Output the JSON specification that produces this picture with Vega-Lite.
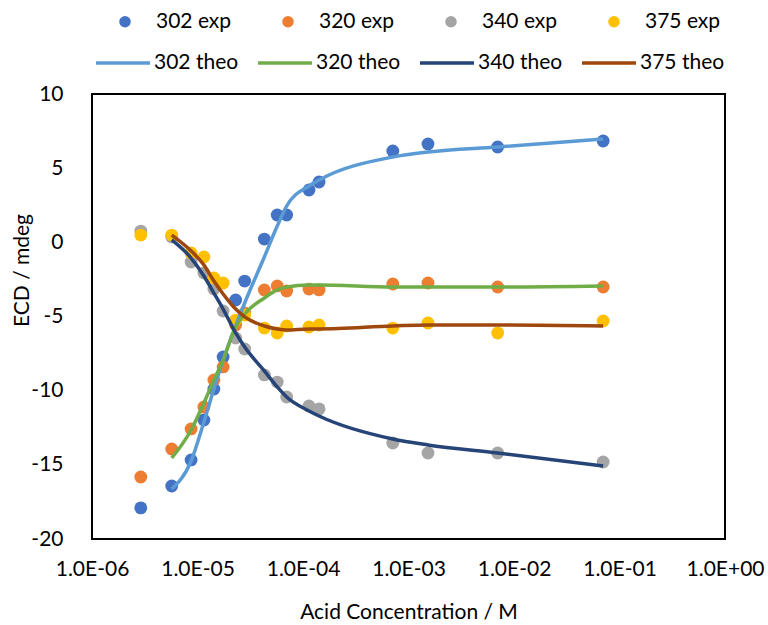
{
  "$schema": "https://vega.github.io/schema/vega-lite/v6.json",
  "width": 633,
  "height": 445,
  "autosize": {"type": "none"},
  "padding": {"left": 92, "top": 94, "right": 43, "bottom": 86},
  "background": "white",
  "config": {
    "font": "Lato",
    "view": {"stroke": "#000000", "strokeWidth": 2},
    "axis": {
      "grid": false, "domain": false, "ticks": false,
      "labelFont": "Lato", "labelFontSize": 21, "labelColor": "#000000",
      "titleFont": "Lato", "titleFontSize": 21, "titleFontWeight": "normal", "titleColor": "#000000"
    },
    "legend": {"labelFont": "Lato", "labelFontSize": 21, "labelColor": "#000000"}
  },
  "datasets": {
    "exp": [
      {"c": 2.9e-6, "s": "302 exp", "v": -17.9},
      {"c": 5.7e-6, "s": "302 exp", "v": -16.43},
      {"c": 8.7e-6, "s": "302 exp", "v": -14.67},
      {"c": 1.15e-5, "s": "302 exp", "v": -11.98},
      {"c": 1.43e-5, "s": "302 exp", "v": -9.89},
      {"c": 1.75e-5, "s": "302 exp", "v": -7.73},
      {"c": 2.3e-5, "s": "302 exp", "v": -3.89},
      {"c": 2.8e-5, "s": "302 exp", "v": -2.61},
      {"c": 4.3e-5, "s": "302 exp", "v": 0.22},
      {"c": 5.7e-5, "s": "302 exp", "v": 1.84},
      {"c": 7.0e-5, "s": "302 exp", "v": 1.84},
      {"c": 1.14e-4, "s": "302 exp", "v": 3.53},
      {"c": 1.42e-4, "s": "302 exp", "v": 4.07},
      {"c": 7.1e-4, "s": "302 exp", "v": 6.16},
      {"c": 1.53e-3, "s": "302 exp", "v": 6.63},
      {"c": 7.0e-3, "s": "302 exp", "v": 6.43},
      {"c": 7.0e-2, "s": "302 exp", "v": 6.83},
      {"c": 2.9e-6, "s": "320 exp", "v": -15.82},
      {"c": 5.7e-6, "s": "320 exp", "v": -13.93},
      {"c": 8.7e-6, "s": "320 exp", "v": -12.58},
      {"c": 1.15e-5, "s": "320 exp", "v": -11.1},
      {"c": 1.43e-5, "s": "320 exp", "v": -9.28},
      {"c": 1.75e-5, "s": "320 exp", "v": -8.4},
      {"c": 2.3e-5, "s": "320 exp", "v": -5.57},
      {"c": 2.8e-5, "s": "320 exp", "v": -4.76},
      {"c": 4.3e-5, "s": "320 exp", "v": -3.21},
      {"c": 5.7e-5, "s": "320 exp", "v": -2.94},
      {"c": 7.0e-5, "s": "320 exp", "v": -3.28},
      {"c": 1.14e-4, "s": "320 exp", "v": -3.15},
      {"c": 1.42e-4, "s": "320 exp", "v": -3.21},
      {"c": 7.1e-4, "s": "320 exp", "v": -2.81},
      {"c": 1.53e-3, "s": "320 exp", "v": -2.74},
      {"c": 7.0e-3, "s": "320 exp", "v": -3.01},
      {"c": 7.0e-2, "s": "320 exp", "v": -3.01},
      {"c": 2.9e-6, "s": "340 exp", "v": 0.76},
      {"c": 5.7e-6, "s": "340 exp", "v": 0.36},
      {"c": 8.7e-6, "s": "340 exp", "v": -1.33},
      {"c": 1.15e-5, "s": "340 exp", "v": -2.07},
      {"c": 1.43e-5, "s": "340 exp", "v": -3.15},
      {"c": 1.75e-5, "s": "340 exp", "v": -4.63},
      {"c": 2.3e-5, "s": "340 exp", "v": -6.45},
      {"c": 2.8e-5, "s": "340 exp", "v": -7.19},
      {"c": 4.3e-5, "s": "340 exp", "v": -8.94},
      {"c": 5.7e-5, "s": "340 exp", "v": -9.42},
      {"c": 7.0e-5, "s": "340 exp", "v": -10.43},
      {"c": 1.14e-4, "s": "340 exp", "v": -11.03},
      {"c": 1.42e-4, "s": "340 exp", "v": -11.23},
      {"c": 7.1e-4, "s": "340 exp", "v": -13.53},
      {"c": 1.53e-3, "s": "340 exp", "v": -14.2},
      {"c": 7.0e-3, "s": "340 exp", "v": -14.2},
      {"c": 7.0e-2, "s": "340 exp", "v": -14.81},
      {"c": 2.9e-6, "s": "375 exp", "v": 0.49},
      {"c": 5.7e-6, "s": "375 exp", "v": 0.49},
      {"c": 8.7e-6, "s": "375 exp", "v": -0.72},
      {"c": 1.15e-5, "s": "375 exp", "v": -0.99},
      {"c": 1.43e-5, "s": "375 exp", "v": -2.4},
      {"c": 1.75e-5, "s": "375 exp", "v": -2.74},
      {"c": 2.3e-5, "s": "375 exp", "v": -5.24},
      {"c": 2.8e-5, "s": "375 exp", "v": -4.9},
      {"c": 4.3e-5, "s": "375 exp", "v": -5.78},
      {"c": 5.7e-5, "s": "375 exp", "v": -6.11},
      {"c": 7.0e-5, "s": "375 exp", "v": -5.64},
      {"c": 1.14e-4, "s": "375 exp", "v": -5.71},
      {"c": 1.42e-4, "s": "375 exp", "v": -5.57},
      {"c": 7.1e-4, "s": "375 exp", "v": -5.78},
      {"c": 1.53e-3, "s": "375 exp", "v": -5.44},
      {"c": 7.0e-3, "s": "375 exp", "v": -6.11},
      {"c": 7.0e-2, "s": "375 exp", "v": -5.3}
    ],
    "theo": [
      {"c": 5.7e-6, "s": "302 theo", "v": -16.63},
      {"c": 8.7e-6, "s": "302 theo", "v": -14.74},
      {"c": 1.15e-5, "s": "302 theo", "v": -12.11},
      {"c": 1.43e-5, "s": "302 theo", "v": -9.89},
      {"c": 1.75e-5, "s": "302 theo", "v": -7.93},
      {"c": 2.3e-5, "s": "302 theo", "v": -5.64},
      {"c": 2.8e-5, "s": "302 theo", "v": -4.09},
      {"c": 4.3e-5, "s": "302 theo", "v": -0.99},
      {"c": 5.7e-5, "s": "302 theo", "v": 1.1},
      {"c": 7.0e-5, "s": "302 theo", "v": 2.45},
      {"c": 1.14e-4, "s": "302 theo", "v": 3.8},
      {"c": 1.42e-4, "s": "302 theo", "v": 4.2},
      {"c": 7.1e-4, "s": "302 theo", "v": 5.75},
      {"c": 1.53e-3, "s": "302 theo", "v": 6.09},
      {"c": 7.0e-3, "s": "302 theo", "v": 6.43},
      {"c": 7.0e-2, "s": "302 theo", "v": 6.97},
      {"c": 5.7e-6, "s": "320 theo", "v": -14.54},
      {"c": 8.7e-6, "s": "320 theo", "v": -12.65},
      {"c": 1.15e-5, "s": "320 theo", "v": -10.83},
      {"c": 1.43e-5, "s": "320 theo", "v": -9.28},
      {"c": 1.75e-5, "s": "320 theo", "v": -7.93},
      {"c": 2.3e-5, "s": "320 theo", "v": -5.71},
      {"c": 2.8e-5, "s": "320 theo", "v": -4.83},
      {"c": 4.3e-5, "s": "320 theo", "v": -3.75},
      {"c": 5.7e-5, "s": "320 theo", "v": -3.21},
      {"c": 7.0e-5, "s": "320 theo", "v": -3.01},
      {"c": 1.14e-4, "s": "320 theo", "v": -2.88},
      {"c": 1.42e-4, "s": "320 theo", "v": -2.88},
      {"c": 7.1e-4, "s": "320 theo", "v": -3.01},
      {"c": 1.53e-3, "s": "320 theo", "v": -3.01},
      {"c": 7.0e-3, "s": "320 theo", "v": -3.01},
      {"c": 7.0e-2, "s": "320 theo", "v": -2.94},
      {"c": 5.7e-6, "s": "340 theo", "v": 0.16},
      {"c": 8.7e-6, "s": "340 theo", "v": -1.06},
      {"c": 1.15e-5, "s": "340 theo", "v": -2.27},
      {"c": 1.43e-5, "s": "340 theo", "v": -3.42},
      {"c": 1.75e-5, "s": "340 theo", "v": -4.5},
      {"c": 2.3e-5, "s": "340 theo", "v": -6.11},
      {"c": 2.8e-5, "s": "340 theo", "v": -7.06},
      {"c": 4.3e-5, "s": "340 theo", "v": -8.67},
      {"c": 5.7e-5, "s": "340 theo", "v": -9.75},
      {"c": 7.0e-5, "s": "340 theo", "v": -10.43},
      {"c": 1.14e-4, "s": "340 theo", "v": -11.37},
      {"c": 1.42e-4, "s": "340 theo", "v": -11.71},
      {"c": 7.1e-4, "s": "340 theo", "v": -13.26},
      {"c": 1.53e-3, "s": "340 theo", "v": -13.66},
      {"c": 7.0e-3, "s": "340 theo", "v": -14.2},
      {"c": 7.0e-2, "s": "340 theo", "v": -15.08},
      {"c": 5.7e-6, "s": "375 theo", "v": 0.49},
      {"c": 8.7e-6, "s": "375 theo", "v": -0.58},
      {"c": 1.15e-5, "s": "375 theo", "v": -1.53},
      {"c": 1.43e-5, "s": "375 theo", "v": -2.61},
      {"c": 1.75e-5, "s": "375 theo", "v": -3.48},
      {"c": 2.3e-5, "s": "375 theo", "v": -4.5},
      {"c": 2.8e-5, "s": "375 theo", "v": -5.03},
      {"c": 4.3e-5, "s": "375 theo", "v": -5.64},
      {"c": 5.7e-5, "s": "375 theo", "v": -5.84},
      {"c": 7.0e-5, "s": "375 theo", "v": -5.91},
      {"c": 1.14e-4, "s": "375 theo", "v": -5.84},
      {"c": 1.42e-4, "s": "375 theo", "v": -5.84},
      {"c": 7.1e-4, "s": "375 theo", "v": -5.64},
      {"c": 1.53e-3, "s": "375 theo", "v": -5.57},
      {"c": 7.0e-3, "s": "375 theo", "v": -5.57},
      {"c": 7.0e-2, "s": "375 theo", "v": -5.64}
    ]
  },
  "encoding": {
    "x": {
      "field": "c", "type": "quantitative",
      "scale": {"type": "log", "domain": [1e-6, 1], "nice": false},
      "axis": {
        "values": [1e-6, 1e-5, 1e-4, 1e-3, 1e-2, 1e-1, 1],
        "labelExpr": "'1.0E' + (round(log(datum.value)/LN10) < 0 ? '-' : '+') + (abs(round(log(datum.value)/LN10)) < 10 ? '0' : '') + abs(round(log(datum.value)/LN10))",
        "labelFlush": false, "labelOverlap": false,
        "labelPadding": 19, "titlePadding": 22,
        "title": "Acid Concentration / M"
      }
    },
    "y": {
      "field": "v", "type": "quantitative",
      "scale": {"domain": [-20, 10], "nice": false, "zero": false},
      "axis": {
        "values": [-20, -15, -10, -5, 0, 5, 10],
        "labelExpr": "'' + datum.value",
        "labelFlush": false, "labelOverlap": false,
        "labelPadding": 29,
        "title": "ECD / mdeg",
        "titleX": -70, "titleY": 176, "titleAngle": -90,
        "titleAlign": "center", "titleBaseline": "middle"
      }
    }
  },
  "layer": [
    {
      "data": {"name": "exp"},
      "mark": {"type": "circle", "size": 165, "opacity": 1},
      "encoding": {
        "fill": {
          "field": "s", "type": "nominal",
          "scale": {"domain": ["302 exp", "320 exp", "340 exp", "375 exp"], "range": ["#4472C4", "#ED7D31", "#A5A5A5", "#FFC000"]},
          "legend": {
            "orient": "none", "legendX": 22.5, "legendY": -83,
            "direction": "horizontal", "columns": 4, "title": null,
            "symbolType": "circle", "symbolSize": 133, "symbolStrokeWidth": 0, "symbolOpacity": 1,
            "labelOffset": 20.5, "columnPadding": 46, "padding": 0
          }
        }
      }
    },
    {
      "data": {"name": "theo"},
      "mark": {"type": "line", "interpolate": "monotone", "strokeWidth": 3.5},
      "encoding": {
        "stroke": {
          "field": "s", "type": "nominal",
          "scale": {"domain": ["302 theo", "320 theo", "340 theo", "375 theo"], "range": ["#5B9BD5", "#70AD47", "#264478", "#9E480E"]},
          "legend": {
            "orient": "none", "legendX": 2, "legendY": -60,
            "direction": "horizontal", "columns": 4, "title": null,
            "symbolType": "stroke", "symbolSize": 2916, "symbolStrokeWidth": 3.5,
            "labelOffset": 2, "columnPadding": 12, "padding": 0
          }
        }
      }
    }
  ]
}
